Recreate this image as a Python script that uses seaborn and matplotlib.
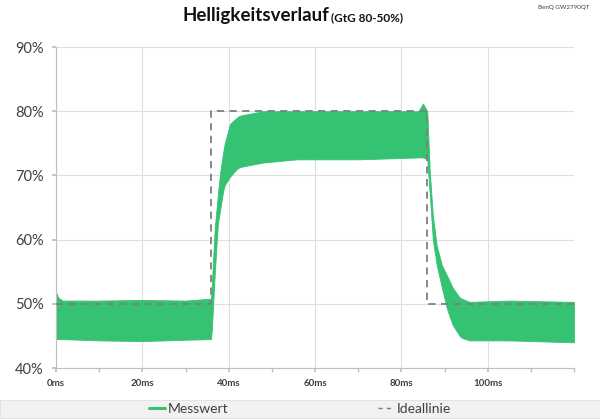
import matplotlib
matplotlib.use("Agg")
import matplotlib.pyplot as plt
from matplotlib.lines import Line2D
from matplotlib.patches import Rectangle
import seaborn as sns
import pandas as pd

# ---- data ----
t_ms = [0, 0.5, 1.5, 10, 20, 30, 35.9, 36.1, 36.8, 37.5, 38.0, 38.7, 39.1, 40.3,
        41.9, 42.6, 47.9, 55.8, 70, 84, 85, 86.0, 86.6, 87.3, 88.2, 89.4, 90.5,
        91.2, 91.9, 93.5, 94.0, 95.8, 105, 120]
mess_upper = [51.8, 51.0, 50.5, 50.5, 50.6, 50.5, 50.8, 53.0, 62.0, 67.0, 70.3,
              73.5, 75.0, 78.0, 79.0, 79.3, 80.0, 80.0, 80.0, 80.0, 81.2, 80.0,
              70.5, 63.7, 59.0, 56.0, 54.5, 53.5, 52.5, 51.0, 50.8, 50.3, 50.5, 50.3]
mess_lower = [44.5, 44.5, 44.5, 44.3, 44.2, 44.4, 44.5, 46.0, 55.0, 62.5, 64.5,
              67.5, 68.5, 69.8, 71.0, 71.3, 72.0, 72.5, 72.5, 72.8, 72.8, 72.5,
              67.0, 60.0, 56.0, 52.5, 49.4, 48.0, 46.7, 45.0, 44.7, 44.3, 44.3, 44.0]

ideal_t = [0, 35.9, 35.9, 86.0, 86.0, 120]
ideal_val = [50, 50, 80, 80, 50, 50]

x_ticks = [0, 20, 40, 60, 80, 100]
x_labels = ["0ms", "20ms", "40ms", "60ms", "80ms", "100ms"]
y_ticks = [40, 50, 60, 70, 80, 90]
y_labels = ["40%", "50%", "60%", "70%", "80%", "90%"]

GREEN = "#35c272"
GREY_DASH = "#7f7f7f"
TXT = "#404040"

sns.set_theme(style="white")
plt.rcParams["font.family"] = ["Lato", "DejaVu Sans"]

fig = plt.figure(figsize=(6, 4.2), dpi=100)
ax = fig.add_axes([56 / 600, 1 - 368 / 420, (574 - 56) / 600, (368 - 47) / 420])

# measured band
ax.fill_between(t_ms, mess_lower, mess_upper, color=GREEN, linewidth=0.6,
                edgecolor=GREEN, zorder=2)

# ideal line
df_ideal = pd.DataFrame({"t": ideal_t, "v": ideal_val})
ax.plot(df_ideal["t"], df_ideal["v"], color=GREY_DASH, lw=1.3,
        dashes=(4, 3), zorder=3)

ax.set_xlim(0, 120)
ax.set_ylim(40, 90)
ax.set_xticks(x_ticks)
ax.set_xticklabels(x_labels, fontsize=7, fontweight="bold", color=TXT)
ax.set_xticks(list(range(0, 121, 10)), minor=True)
ax.set_yticks(y_ticks)
ax.set_yticklabels(y_labels, fontsize=10.5, color=TXT)
ax.grid(True, which="major", color="#dedede", lw=0.8, zorder=0)
ax.set_axisbelow(True)
for s in ["top", "right"]:
    ax.spines[s].set_visible(False)
ax.spines["left"].set_color("#bfbfbf")
ax.spines["bottom"].set_color("#bfbfbf")
ax.spines["left"].set_linewidth(0.8)
ax.spines["bottom"].set_linewidth(0.8)
ax.tick_params(axis="x", which="both", bottom=True, length=3, color="#bfbfbf", pad=5)
ax.tick_params(axis="y", which="both", left=True, length=3, color="#bfbfbf", pad=6)
ax.set_xlabel("")
ax.set_ylabel("")

# title
fig.text(329 / 600, 1 - 21 / 420, "Helligkeitsverlauf", ha="right", va="baseline",
         fontsize=13.5, fontweight="bold", color="#111111")
fig.text(331 / 600, 1 - 21 / 420, "(GtG 80-50%)", ha="left", va="baseline",
         fontsize=8.5, fontweight="bold", color="#111111")
fig.text(589 / 600, 1 - 7 / 420, "BenQ GW2790QT", ha="right", va="center",
         fontsize=4.5, color=TXT)

# legend band
fig.patches.append(Rectangle((0, 2 / 420), 1, 18 / 420, transform=fig.transFigure,
                             facecolor="#f2f2f2", edgecolor="#e0e0e0", lw=0.6,
                             zorder=0))
handles = [Line2D([], [], color=GREEN, lw=2.2),
           Line2D([], [], color=GREY_DASH, lw=1.0, dashes=(3, 3))]
fig.legend(handles, ["Messwert", "Ideallinie"], loc="center",
           bbox_to_anchor=(0.5, 11 / 420), ncol=2, frameon=False,
           fontsize=10, handlelength=1.15, handletextpad=0.2,
           columnspacing=10.8, labelcolor=TXT)

fig.savefig("out.png", dpi=100)
